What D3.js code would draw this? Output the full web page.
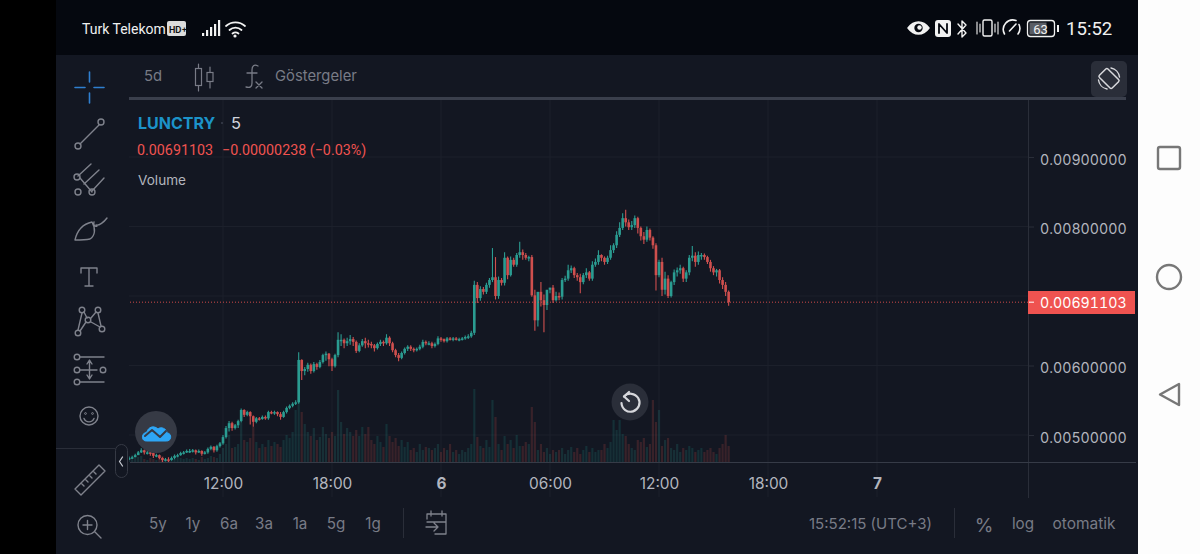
<!DOCTYPE html>
<html><head><meta charset="utf-8">
<style>
html,body{margin:0;padding:0;background:#000;overflow:hidden}
svg{display:block;font-family:Inter,Roboto,sans-serif}
</style>
<script src="https://cdnjs.cloudflare.com/ajax/libs/d3/7.8.5/d3.min.js"></script>
</head><body><svg id="c" width="1200" height="554" viewBox="0 0 1200 554"></svg>
<script>
// Prices below are in units of 0.00001
const priceUnit = 0.00001;
const opens = [
466,467,468,471,475,478,475,475,474,470,
471,467,464,465,464,467,470,471,474,475,
477,477,478,475,477,473,475,480,483,478,
484,488,497,510,517,510,514,520,536,529,
533,527,519,524,523,526,524,533,532,533,
530,526,533,539,542,545,547,608,592,595,
601,592,602,598,605,615,617,609,599,615,
637,637,632,635,638,634,621,629,635,632,
631,629,625,631,634,632,640,632,622,615,
611,618,624,627,624,622,624,627,634,632,
632,628,631,639,638,635,639,638,639,638,
638,639,641,642,647,716,697,710,706,716,
723,727,700,723,719,755,730,752,745,759,
763,759,755,756,701,665,706,694,687,709,
712,694,700,699,723,725,737,740,730,727,
720,730,734,725,745,749,759,755,749,755,
766,773,788,798,812,806,799,802,812,798,
786,781,795,784,773,730,749,709,725,700,
720,734,737,740,725,734,755,758,749,759,
759,756,749,740,734,737,723,716,706];
const closes = [
467,468,471,475,478,475,475,474,470,471,
467,464,465,464,467,470,471,474,475,477,
477,478,475,477,473,475,480,483,478,484,
488,497,510,517,510,514,520,536,529,533,
527,519,524,523,526,524,533,532,533,530,
526,533,539,542,545,547,608,592,595,601,
592,602,598,605,615,617,609,599,615,637,
637,632,635,638,634,621,629,635,632,631,
629,625,631,634,632,640,632,622,615,611,
618,624,627,624,622,624,627,634,632,632,
628,631,639,638,635,639,638,639,638,638,
639,641,642,647,716,697,710,706,716,723,
727,700,723,719,755,730,752,745,759,763,
759,755,756,701,665,706,694,687,709,712,
694,700,699,723,725,737,740,730,727,720,
730,734,725,745,749,759,755,749,755,766,
773,788,798,812,806,799,802,812,798,786,
781,795,784,773,730,749,709,725,700,720,
734,737,740,725,734,755,758,749,759,759,
756,749,740,734,737,723,716,706,691.103];
const highs = [
469,470,473,477,481,479,477,476,475,473,
472,468,467,468,469,472,473,476,477,479,
480,480,479,479,478,477,482,485,484,486,
490,500,513,520,519,516,522,538,537,535,
534,528,526,526,528,528,535,535,535,534,
533,535,541,544,547,550,619,609,598,604,
603,605,604,608,617,620,618,611,617,648,
645,639,640,644,641,636,632,638,640,637,
634,631,633,637,636,645,642,634,624,618,
620,626,629,629,626,626,630,637,636,635,
634,633,642,641,639,641,641,641,641,640,
641,643,645,650,722,720,714,713,719,726,
769,756,728,726,763,757,757,755,762,778,
767,762,758,759,709,675,720,702,696,712,
716,706,705,726,729,745,744,742,733,732,
733,740,736,750,754,766,760,757,758,773,
776,793,806,819,824,810,808,816,814,800,
792,800,797,786,776,752,755,735,730,722,
738,741,745,742,737,759,772,763,764,762,
761,758,752,743,739,739,727,720,708];
const lows = [
464,465,468,472,474,472,472,470,467,468,
465,460,462,461,463,465,468,470,472,474,
474,475,472,474,470,472,473,478,475,476,
482,486,495,505,506,508,510,518,526,527,
515,512,517,521,522,522,522,530,529,527,
522,525,531,537,540,543,545,579,586,591,
588,590,594,596,603,607,599,592,597,612,
628,625,628,630,628,618,619,627,625,626,
625,620,623,628,628,630,628,619,612,606,
609,616,621,621,619,620,622,625,629,629,
625,626,629,634,633,633,636,635,636,635,
636,637,638,640,644,690,693,702,703,712,
720,695,696,715,715,724,728,742,742,755,
752,752,750,699,650,656,685,648,680,704,
690,692,694,695,720,722,733,726,722,704,
717,726,722,722,742,745,750,745,746,752,
762,769,785,795,800,795,795,798,790,780,
775,778,780,768,708,727,700,702,697,698,
716,728,732,720,720,730,750,742,745,752,
752,746,735,730,728,718,710,700,686];
const volumes = [
3,2,4,5,6,3,2,4,3,2,
5,6,3,2,4,3,5,4,3,4,
3,4,3,2,5,3,4,6,5,4,
8,14,18,27,14,15,18,39,22,20,
24,35,20,14,18,15,22,16,20,18,
15,22,27,24,30,52,72,50,38,30,
26,34,22,25,35,28,24,30,26,72,
40,28,34,30,26,32,26,35,28,35,
22,18,26,20,15,38,26,20,24,16,
22,15,20,12,14,10,18,12,15,14,
12,14,18,10,14,12,18,10,12,8,
12,10,14,18,73,25,16,14,22,15,
62,45,18,12,26,18,22,14,27,16,
16,20,18,55,40,12,18,10,14,8,
12,10,12,14,8,12,15,10,14,8,
12,16,10,14,10,12,12,18,14,20,
42,32,42,28,26,18,14,12,22,20,
24,15,18,62,40,52,16,22,24,14,
12,18,10,14,12,16,14,10,12,14,
10,12,14,10,8,14,18,27,16];

const priceTicks = [0.005,0.006,0.007,0.008,0.009];
const priceLabels = ["0.00500000","0.00600000","","0.00800000","0.00900000"];
const lastPrice = 0.00691103;
const timeTicks = [
  Date.UTC(2022,8,5,12),Date.UTC(2022,8,5,18),Date.UTC(2022,8,6,0),
  Date.UTC(2022,8,6,6),Date.UTC(2022,8,6,12),Date.UTC(2022,8,6,18),Date.UTC(2022,8,7,0)];
const timeLabels = ["12:00","18:00","6","06:00","12:00","18:00","7"];
const rangeLabels = ["5y","1y","6a","3a","1a","5g","1g"];
const firstCandle = Date.UTC(2022,8,5,6,50);
const candleMinutes = 10;

const C = {bg:"#131722",status:"#05080f",grid:"#1c202b",axis:"#2a2e39",muted:"#787b86",
  label:"#b2b5be",up:"#2b9c91",down:"#cf4f4e",red:"#ef5350",icon:"#7f828c",btn:"#2a2e39"};

const svg = d3.select("#c");
const defs = svg.append("defs");
defs.append("filter").attr("id","soft").append("feGaussianBlur").attr("stdDeviation",0.4);
defs.append("clipPath").attr("id","pane").append("rect").attr("x",129).attr("y",100).attr("width",899).attr("height",362);

const x = d3.scaleUtc().domain([timeTicks[0],timeTicks[6]]).range([223,877]);
const y = d3.scaleLinear().domain([0.005,0.009]).range([435,157]);
const vol = d3.scaleLinear().domain([0,100]).range([462,362]);
const tAt = i => firstCandle + i*candleMinutes*60000;

const R=(rx,ry,w,h,fill,o={})=>{const r=svg.append("rect").attr("x",rx).attr("y",ry).attr("width",w).attr("height",h).attr("fill",fill);
  if(o.rx)r.attr("rx",o.rx); if(o.stroke)r.attr("stroke",o.stroke).attr("stroke-width",o.sw||1); if(o.rot)r.attr("transform",o.rot); return r;};

// frame
R(0,0,1200,554,"#000");
R(56,0,1082,554,C.bg);
R(56,0,1082,55,C.status);
R(1138,0,62,554,"#fdfdfd");

// grid
const g = svg.append("g");
g.selectAll("line.v").data(timeTicks).join("line").attr("class","v")
  .attr("x1",d=>x(d)).attr("x2",d=>x(d)).attr("y1",100).attr("y2",497).attr("stroke",C.grid);
g.selectAll("line.h").data(priceTicks).join("line").attr("class","h")
  .attr("x1",129).attr("x2",1028).attr("y1",d=>y(d)).attr("y2",d=>y(d)).attr("stroke",C.grid);
svg.append("line").attr("x1",1028.5).attr("x2",1028.5).attr("y1",100).attr("y2",498).attr("stroke",C.axis);
svg.append("line").attr("x1",130).attr("x2",1136).attr("y1",462.5).attr("y2",462.5).attr("stroke","#363b47").attr("stroke-width",1.2);
R(129,97,997,3,"#3a3f4c");

// volume
const idx = d3.range(closes.length);
const chart = svg.append("g").attr("clip-path","url(#pane)");
chart.append("g").attr("filter","url(#soft)").selectAll("rect").data(idx).join("rect")
  .attr("x",i=>x(tAt(i))-1.1).attr("width",2.2)
  .attr("y",i=>vol(volumes[i])).attr("height",i=>vol(0)-vol(volumes[i]))
  .attr("fill",i=>closes[i]>=opens[i]?"#26a69a":"#ef5350").attr("opacity",0.17);

// candles
const candles = chart.append("g").attr("filter","url(#soft)");
const col = i=>closes[i]>=opens[i]?C.up:C.down;
candles.selectAll("line").data(idx).join("line")
  .attr("x1",i=>x(tAt(i))).attr("x2",i=>x(tAt(i)))
  .attr("y1",i=>y(highs[i]*priceUnit)).attr("y2",i=>y(lows[i]*priceUnit))
  .attr("stroke",col).attr("stroke-width",1.1);
candles.selectAll("rect").data(idx).join("rect")
  .attr("x",i=>x(tAt(i))-1.3).attr("width",2.6)
  .attr("y",i=>y(Math.max(opens[i],closes[i])*priceUnit))
  .attr("height",i=>Math.max(1.5,Math.abs(y(opens[i]*priceUnit)-y(closes[i]*priceUnit))))
  .attr("fill",col);

// last price line
svg.append("line").attr("x1",130).attr("x2",1028).attr("y1",y(lastPrice)).attr("y2",y(lastPrice))
  .attr("stroke",C.red).attr("stroke-width",1).attr("stroke-dasharray","1 2").attr("opacity",.85);

// axes
const yAxis = d3.axisRight(y).tickValues(priceTicks).tickSize(6).tickPadding(6)
  .tickFormat((d,i)=>priceLabels[i]);
const ya = svg.append("g").attr("transform","translate(1028,0)").call(yAxis);
ya.select(".domain").remove();
ya.selectAll("line").attr("stroke",C.axis);
ya.selectAll("text").attr("fill",C.label).attr("font-size",14.2).attr("font-family","Inter,sans-serif").attr("dy","0.86em").attr("y",-4.8).style("font-variant-numeric","tabular-nums");

R(1028,291,107,23,C.red);
svg.append("line").attr("x1",1029).attr("x2",1034).attr("y1",y(lastPrice)).attr("y2",y(lastPrice)).attr("stroke","#fff");
svg.append("text").attr("x",1040).attr("y",308).attr("fill","#fff").attr("font-size",14.2).style("font-variant-numeric","tabular-nums").text(lastPrice.toFixed(8));

const xAxis = d3.axisBottom(x).tickValues(timeTicks).tickSize(0).tickPadding(0)
  .tickFormat((d,i)=>timeLabels[i]);
const xa = svg.append("g").attr("transform","translate(0,489)").call(xAxis);
xa.select(".domain").remove();
xa.selectAll("text").attr("fill",C.label).attr("font-size",15.4).attr("font-family","Inter,sans-serif").attr("dy",0).attr("y",0)
  .attr("font-weight",(d,i)=>timeLabels[i].length===1?700:400);

// texts helper
function T(s,px,py,fs,fill,o={}){
  const t=svg.append("text").attr("x",px).attr("y",py).attr("font-size",fs).attr("fill",fill).text(s);
  if(o.anchor)t.attr("text-anchor",o.anchor);
  if(o.weight)t.attr("font-weight",o.weight);
  if(o.family)t.attr("font-family",o.family);
  return t;
}
const RB="Roboto,sans-serif";
// legend
T("LUNCTRY",138,129,16,"#1c93c9",{weight:700});
svg.append("circle").attr("cx",222).attr("cy",123).attr("r",1).attr("fill","#3a3f4c");
T("5",231,129,16.5,"#d1d4dc");
T("0.00691103",137,155,14.3,"#ef5350",{family:RB});
T("−0.00000238 (−0.03%)",222,155,14.3,"#ef5350",{family:RB});
T("Volume",138,185,13.6,C.label);

// top toolbar
T("5d",144,81,14.8,C.muted);
T("Göstergeler",275,81,14.8,C.muted);
// status bar text
T("Turk Telekom",82,34,14,"#f0f0f0",{family:RB});
T("15:52",1066,35,18.6,"#f0f0f0",{family:RB});

// bottom bar
const rangeX=[158,193,229,264,300,336,373];
rangeLabels.forEach((s,i)=>T(s,rangeX[i],529,15.2,C.muted,{anchor:"middle"}));
T("15:52:15 (UTC+3)",809,529,15,C.muted);
T("%",984,532,19,C.muted,{anchor:"middle"});
T("log",1023,529,15.2,C.muted,{anchor:"middle"});
T("otomatik",1084,529,15.5,C.muted,{anchor:"middle"});
[403.5,954.5].forEach(v=>svg.append("line").attr("x1",v).attr("x2",v).attr("y1",508).attr("y2",538).attr("stroke",C.axis));

// icon helpers
const P=(d,stroke=C.icon,sw=1.4,fill="none")=>svg.append("path").attr("d",d).attr("stroke",stroke).attr("stroke-width",sw).attr("fill",fill).attr("stroke-linecap","round").attr("stroke-linejoin","round");
const O=(cx,cy,r,stroke=C.icon,sw=1.4,fill="none")=>svg.append("circle").attr("cx",cx).attr("cy",cy).attr("r",r).attr("stroke",stroke).attr("stroke-width",sw).attr("fill",fill);

// left toolbar icons
P("M75 87.5H85M94 87.5H104M89.5 72V82M89.5 93V103","#2f7fd0",1.6);
P("M80 144L99 125"); O(78,146,3); O(101,122,3);
P("M78 176L91 164M84 184L99 170M92 191L104 178M80 178L92 192"); O(77,177,3); O(78,192,3); O(92,192,3);
P("M75 240C77 231 83 224 92 222C96 229 95 236 90 239C85 240 80 240 75 240ZM96 225C99 226 104 222 107 218M94 222C93 225 95 227 97 226");
P("M81 268V273M81 268H97V273M89 268V286M85 286H93");
O(82,310,2.8); O(98,310,2.8); O(88,320,2.8); O(78,333,2.8); O(102,329,2.8);
P("M82 313L78 330M84 312L87 318M96 312L91 318M98 313L101 326M86 322L80 331M91 322L100 327");
P("M80 357H104M80 370H97M80 382H104M89.5 361V378M87 364L89.5 360L92 364M87 375L89.5 379L92 375"); O(77,357,2.8); O(77,370,2.8); O(77,382,2.8); O(103,370,2.8);
O(89,416,9); O(85.5,413.5,.9,C.icon,1); O(92.5,413.5,.9,C.icon,1); P("M84 418.5C86 423 92 423 94 418.5");
svg.append("line").attr("x1",56).attr("x2",115).attr("y1",448.5).attr("y2",448.5).attr("stroke",C.axis);
R(115.5,444.5,12,33,C.bg,{rx:6,stroke:"#363a45"});
P("M122.5 457L119.5 461.5L122.5 466","#c5c8d0",1.3);
P("M75 489L99 465L105 471L81 495ZM81 483L84 486M85 479L88 482M89 475L92 478M93 471L96 474");
O(87.5,525,9.5); P("M83 525H92M87.5 520.5V529.5"); P("M95 532L101 538");
P("M427 519V514H446V534H435M431 511V516M442 511V516M427 522H446M426 527H438M434 523L438 527L434 531",C.icon,1.3);

// top toolbar icons
P("M198.5 64V91M210 67V88",C.muted,1.2);
R(195.5,68.5,6,17,C.bg,{stroke:C.muted,sw:1.2});
R(207,72.5,6,9,C.bg,{stroke:C.muted,sw:1.2});
P("M258 66C254 64 252 66 252 70V83C252 87 250 88 246 87M247 73H257M256 82L262 88M262 82L256 88",C.muted,1.3);

// rotate button
R(1091,61,36,36,C.btn,{rx:5});
R(1103,69.5,12,18,"none",{rx:1.5,stroke:"#d8d9dd",sw:1.5,rot:"rotate(-45 1109 78.5)"});
P("M1111 68A10.5 10.5 0 0 1 1119.5 77M1107 89A10.5 10.5 0 0 1 1098.5 80","#d8d9dd",1.4);

// floating reload
O(630,402,18.5,"none",0,"#2a2e39");
P("M624 396.5A9 9 0 1 1 621.5 403","#d6d7db",2.2);
P("M629 392L624 396.5L629 401","#d6d7db",2.2);

// cloud logo
O(156,432,21,"none",0,"#363a45");
P("M146 441C141 441 141 433 147 432C148 427 154 425 158 429C161 426 167 429 167 433C172 433 172 441 167 441Z","#2ea6f5",1,"#2ea6f5");
P("M145 436L152 430L160 437L166 431","#363a45",2);

// status bar icons
const W="#f2f2f2";
R(167,21,19,15,"#dcdcdc",{rx:2});
svg.append("text").attr("x",169).attr("y",32.5).attr("font-size",8.5).attr("font-weight",700).attr("fill","#111").text("HD+");
R(202,33,2.2,3,W); R(206,30,2.2,6,W); R(210,27,2.2,9,W); R(214,24,2.2,12,W); R(218,20,2.2,16,W);
P("M226 26A14 14 0 0 1 245 26M229.5 30A9 9 0 0 1 241.5 30M232.5 33.5A5 5 0 0 1 238.5 33.5",W,1.8);
O(235,36,1.6,"none",0,W);
P("M908 28C914 20 923 20 929 28C923 36 914 36 908 28Z",W,1.5,W);
O(918.5,28,4.2,"none",0,C.status); O(919.5,27.5,2.2,"none",0,W);
R(935,20,16,17,W,{rx:3});
P("M939 33V24L947 33V24",C.status,1.8);
P("M958 24L966 33L962 37V21L966 25L958 34",W,1.4);
R(983,20,9,16,"none",{rx:1.5,stroke:W,sw:1.4});
P("M977 22V34M980 24V32M995 24V32M998 22V34",W,1.1);
P("M1004.5 34A9.5 9.5 0 0 1 1016 20.5M1019 24.5A9.5 9.5 0 0 1 1018 34M1009.5 31L1016 24",W,1.6);
R(1027.5,20.5,27,16,"none",{rx:3,stroke:W,sw:1.3});
R(1029.5,22.5,17,12,"#5a5d64");
svg.append("text").attr("x",1040.5).attr("y",33.5).attr("text-anchor","middle").attr("font-size",13).attr("fill",W).attr("font-family",RB).text("63");
R(1057,25,2,7,W);

// navigation bar
R(1158,147,22,22,"none",{rx:2,stroke:"#777",sw:2.4});
O(1169,277,12,"#777",2.4);
P("M1179 384V405L1160 394.5Z","#777",2.4);
</script></body></html>
